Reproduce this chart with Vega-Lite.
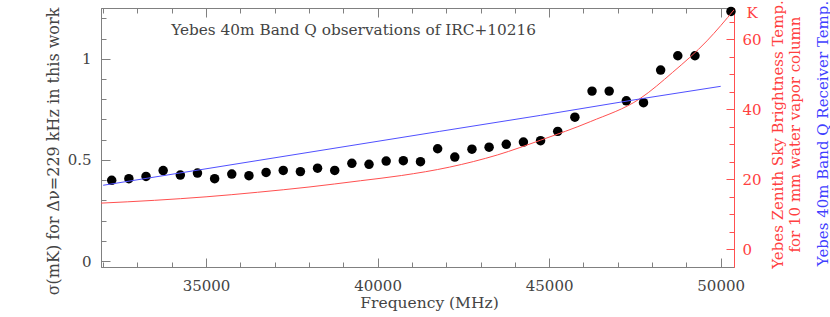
{
  "$schema": "https://vega.github.io/schema/vega-lite/v6.json",
  "width": 633,
  "height": 259,
  "autosize": {"type": "none"},
  "padding": {"left": 101, "top": 8, "right": 96, "bottom": 50},
  "background": "white",
  "config": {
    "view": {"stroke": null},
    "font": "DejaVu Serif",
    "axis": {
      "labelFont": "DejaVu Serif",
      "titleFont": "DejaVu Serif",
      "labelFontSize": 15,
      "titleFontSize": 15,
      "titleFontWeight": "normal",
      "domainColor": "#808080",
      "tickColor": "#808080",
      "labelColor": "#444444",
      "titleColor": "#444444",
      "grid": false
    }
  },
  "datasets": {
    "obs": [
      {"freq": 32250, "sigma": 0.399},
      {"freq": 32750, "sigma": 0.407},
      {"freq": 33250, "sigma": 0.418},
      {"freq": 33750, "sigma": 0.447},
      {"freq": 34250, "sigma": 0.425},
      {"freq": 34750, "sigma": 0.435},
      {"freq": 35250, "sigma": 0.407},
      {"freq": 35750, "sigma": 0.430},
      {"freq": 36250, "sigma": 0.422},
      {"freq": 36750, "sigma": 0.438},
      {"freq": 37250, "sigma": 0.448},
      {"freq": 37750, "sigma": 0.442},
      {"freq": 38250, "sigma": 0.459},
      {"freq": 38750, "sigma": 0.448},
      {"freq": 39250, "sigma": 0.483},
      {"freq": 39750, "sigma": 0.478},
      {"freq": 40250, "sigma": 0.494},
      {"freq": 40750, "sigma": 0.496},
      {"freq": 41250, "sigma": 0.491},
      {"freq": 41750, "sigma": 0.555},
      {"freq": 42250, "sigma": 0.514},
      {"freq": 42750, "sigma": 0.553},
      {"freq": 43250, "sigma": 0.563},
      {"freq": 43750, "sigma": 0.577},
      {"freq": 44250, "sigma": 0.588},
      {"freq": 44750, "sigma": 0.595},
      {"freq": 45250, "sigma": 0.641},
      {"freq": 45750, "sigma": 0.711},
      {"freq": 46250, "sigma": 0.840},
      {"freq": 46750, "sigma": 0.840},
      {"freq": 47250, "sigma": 0.792},
      {"freq": 47750, "sigma": 0.783},
      {"freq": 48250, "sigma": 0.944},
      {"freq": 48750, "sigma": 1.015},
      {"freq": 49250, "sigma": 1.015},
      {"freq": 50300, "sigma": 1.234}
    ],
    "sky": [
      {"freq": 31938, "temp": 13.2},
      {"freq": 33500, "temp": 14.0},
      {"freq": 35000, "temp": 15.0},
      {"freq": 36500, "temp": 16.3},
      {"freq": 38000, "temp": 17.8},
      {"freq": 39500, "temp": 19.6},
      {"freq": 40700, "temp": 21.1},
      {"freq": 42100, "temp": 23.5},
      {"freq": 43500, "temp": 27.0},
      {"freq": 44750, "temp": 31.2},
      {"freq": 46200, "temp": 36.5},
      {"freq": 47650, "temp": 43.1},
      {"freq": 48600, "temp": 50.6},
      {"freq": 49600, "temp": 59.6},
      {"freq": 50400, "temp": 68.6}
    ],
    "rx": [
      {"freq": 32000, "temp": 18.3},
      {"freq": 41800, "temp": 33.7},
      {"freq": 44750, "temp": 38.3},
      {"freq": 47650, "temp": 43.0},
      {"freq": 50000, "temp": 46.6}
    ]
  },
  "resolve": {
    "scale": {"x": "independent", "y": "independent"},
    "axis": {"x": "independent", "y": "independent"}
  },
  "layer": [
    {
      "layer": [
        {
          "data": {"name": "obs"},
          "mark": {"type": "circle", "size": 90, "opacity": 1, "color": "black"},
          "encoding": {
            "x": {
              "field": "freq", "type": "quantitative",
              "scale": {"domain": [31938, 50388], "nice": false, "zero": false},
              "axis": {"orient": "bottom", "values": [35000, 40000, 45000, 50000], "format": "d", "tickSize": -9, "labelPadding": 20, "title": "Frequency (MHz)", "titleFontSize": 15.5, "titleX": 328, "titleY": 35, "titleBaseline": "middle", "titleAlign": "center"}
            },
            "y": {
              "field": "sigma", "type": "quantitative",
              "scale": {"domain": [-0.0296, 1.251], "nice": false, "zero": false},
              "axis": {"orient": "left", "values": [0, 0.5, 1], "format": "~g", "tickSize": -9, "labelPadding": 19, "title": "σ(mK) for Δν=229 kHz in this work", "titleFontSize": 16, "titleX": -48, "titleY": 143, "titleAngle": -90, "titleBaseline": "middle", "titleAlign": "center"}
            }
          }
        },
        {
          "data": {"values": [{}]},
          "mark": {"type": "text", "font": "DejaVu Serif", "fontSize": 15.3, "color": "#444444", "align": "center", "baseline": "middle"},
          "encoding": {
            "x": {"datum": 39300, "type": "quantitative"},
            "y": {"datum": 1.14, "type": "quantitative"},
            "text": {"value": "Yebes 40m Band Q observations of IRC+10216"}
          }
        }
      ]
    },
    {
      "data": {"name": "sky"},
      "mark": {"type": "line", "color": "#ff5050", "strokeWidth": 1, "interpolate": "monotone", "clip": true},
      "encoding": {
        "x": {
          "field": "freq", "type": "quantitative",
          "scale": {"domain": [31938, 50388], "nice": false, "zero": false},
          "axis": {"orient": "top", "values": [35000, 40000, 45000, 50000], "labels": false, "tickSize": -9, "title": null}
        },
        "y": {
          "field": "temp", "type": "quantitative",
          "scale": {"domain": [-5.07, 69.0], "nice": false, "zero": false},
          "axis": {"orient": "right", "values": [0, 20, 40, 60], "tickSize": -8, "labelPadding": 16, "domainColor": "#ff5050", "tickColor": "#ff5050", "labelColor": "#ff4040", "title": ["Yebes Zenith Sky Brightness Temp.", "for 10 mm water vapor column"], "titleColor": "#ff4040", "titleAngle": 270, "titleX": 43, "titleY": 126, "titleBaseline": "middle", "titleAlign": "center", "titleLineHeight": 17}
        }
      }
    },
    {
      "data": {"name": "rx"},
      "mark": {"type": "line", "color": "#5050ff", "strokeWidth": 1},
      "encoding": {
        "x": {
          "field": "freq", "type": "quantitative",
          "scale": {"domain": [31938, 50388], "nice": false, "zero": false},
          "axis": null
        },
        "y": {
          "field": "temp", "type": "quantitative",
          "scale": {"domain": [-5.07, 69.0], "nice": false, "zero": false},
          "axis": {"orient": "right", "labels": false, "ticks": false, "domain": false, "title": "Yebes 40m Band Q Receiver Temp.", "titleColor": "#4040ff", "titleAngle": 270, "titleX": 88, "titleY": 125, "titleBaseline": "middle", "titleAlign": "center"}
        }
      }
    },
    {
      "data": {"name": "obs"},
      "mark": {"type": "circle", "opacity": 0},
      "encoding": {
        "x": {
          "field": "freq", "type": "quantitative",
          "scale": {"domain": [31938, 50388], "nice": false, "zero": false},
          "axis": {"orient": "bottom", "values": [32000, 33000, 34000, 35000, 36000, 37000, 38000, 39000, 40000, 41000, 42000, 43000, 44000, 45000, 46000, 47000, 48000, 49000, 50000], "labels": false, "tickSize": -5, "title": null}
        },
        "y": {
          "field": "sigma", "type": "quantitative",
          "scale": {"domain": [-0.0296, 1.251], "nice": false, "zero": false},
          "axis": {"orient": "left", "values": [0, 0.1, 0.2, 0.3, 0.4, 0.5, 0.6, 0.7, 0.8, 0.9, 1, 1.1, 1.2], "labels": false, "tickSize": -5, "title": null}
        }
      }
    },
    {
      "data": {"name": "obs"},
      "mark": {"type": "circle", "opacity": 0},
      "encoding": {
        "x": {
          "field": "freq", "type": "quantitative",
          "scale": {"domain": [31938, 50388], "nice": false, "zero": false},
          "axis": {"orient": "top", "values": [32000, 33000, 34000, 35000, 36000, 37000, 38000, 39000, 40000, 41000, 42000, 43000, 44000, 45000, 46000, 47000, 48000, 49000, 50000], "labels": false, "tickSize": -5, "title": null}
        },
        "y": {
          "field": "sigma", "type": "quantitative",
          "scale": {"domain": [-5.07, 69.0], "nice": false, "zero": false},
          "axis": {"orient": "right", "values": [0, 5, 10, 15, 20, 25, 30, 35, 40, 45, 50, 55, 60, 65], "tickSize": -5, "labelExpr": "datum.value == 65 ? 'K' : ''", "labelOffset": -9, "labelPadding": 17, "domainColor": "#ff5050", "tickColor": "#ff5050", "labelColor": "#ff4040", "title": null}
        }
      }
    }
  ]
}
